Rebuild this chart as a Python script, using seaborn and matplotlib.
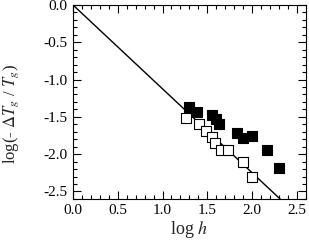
import numpy as np
import pandas as pd
import matplotlib
matplotlib.use("Agg")
import matplotlib.pyplot as plt
from matplotlib.ticker import MultipleLocator
import seaborn as sns

# данные
filled_x = [1.30, 1.39, 1.55, 1.60, 1.63, 1.83, 1.90, 2.00, 2.17, 2.30]
filled_y = [-1.37, -1.44, -1.47, -1.53, -1.59, -1.72, -1.79, -1.76, -1.94, -2.18]
open_x = [1.26, 1.41, 1.49, 1.55, 1.58, 1.65, 1.73, 1.90, 2.00]
open_y = [-1.51, -1.59, -1.69, -1.77, -1.85, -1.95, -1.95, -2.10, -2.31]
line_x = [0.0, 2.6]
line_slope = -1.125

sns.set_style("ticks")
plt.rcParams['font.family'] = ['Liberation Serif', 'DejaVu Serif']
plt.rcParams['mathtext.fontset'] = 'stix'

df_filled = pd.DataFrame({"x": filled_x, "y": filled_y})
df_open = pd.DataFrame({"x": open_x, "y": open_y})
df_line = pd.DataFrame({"x": line_x, "y": [line_slope * v for v in line_x]})

fig = plt.figure(figsize=(3.09, 2.45), dpi=100)
ax = fig.add_axes([0.236, 0.188, 0.754, 0.792])

sns.lineplot(data=df_line, x="x", y="y", color="black", linewidth=1.0, ax=ax)
sns.scatterplot(data=df_filled, x="x", y="y", marker="s", s=55, color="black",
                edgecolor="black", linewidth=0.8, ax=ax, zorder=3)
sns.scatterplot(data=df_open, x="x", y="y", marker="s", s=55, facecolor="white",
                edgecolor="black", linewidth=0.8, ax=ax, zorder=3)

ax.set_xlim(0, 2.6)
ax.set_ylim(-2.6, 0)
ax.xaxis.set_major_locator(MultipleLocator(0.5))
ax.xaxis.set_minor_locator(MultipleLocator(0.1))
ax.yaxis.set_major_locator(MultipleLocator(0.5))
ax.yaxis.set_minor_locator(MultipleLocator(0.1))
ax.tick_params(which="both", direction="in", top=True, right=True,
               labelsize=11, width=0.8, color="black", labelcolor="black")
ax.tick_params(which="major", length=6, pad=4)
ax.tick_params(which="minor", length=3)
ax.xaxis.set_major_formatter(plt.FormatStrFormatter("%.1f"))
ax.yaxis.set_major_formatter(plt.FormatStrFormatter("%.1f"))
for sp in ax.spines.values():
    sp.set_color("black")
    sp.set_linewidth(0.8)

ax.set_xlabel(r"log $h$", fontsize=13, labelpad=1)
ax.set_ylabel(r"log(- $\Delta T_{g}$ / $T_{g}$)", fontsize=12)
ax.yaxis.set_label_coords(-0.225, 0.44)

plt.savefig("out.png", dpi=100)
